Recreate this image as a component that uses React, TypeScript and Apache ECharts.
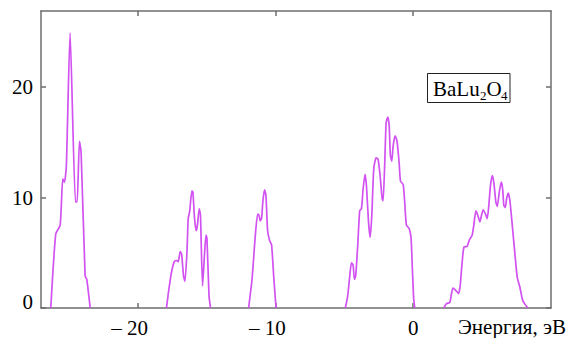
import React, { useEffect, useRef } from "react";
import * as echarts from "echarts";

// Energy (eV) and DOS values for each band
const band1E = [-26.29, -25.93, -25.61, -25.42, -25.3, -25.16, -24.89, -24.5, -24.38, -24.21, -24.09, -23.8, -23.68, -23.43];
const band1V = [0, 6.7, 7.5, 11.7, 11.4, 12.9, 24.9, 9.6, 9.6, 15.1, 14.1, 2.9, 2.6, 0];

const band2E = [-17.9, -17.58, -17.33, -17.14, -17.04, -16.9, -16.8, -16.66, -16.56, -16.41, -16.32, -16.22, -16.05, -15.98, -15.86, -15.74, -15.65, -15.52, -15.43, -15.28, -15.14, -15.03, -14.96, -14.81, -14.7];
const band2V = [0, 2.9, 4.2, 4.3, 4.2, 5.1, 4.9, 2.9, 2.4, 5.1, 8.1, 8.7, 10.6, 10.5, 8.1, 7.0, 7.5, 9.0, 8.4, 2.0, 4.8, 6.6, 6.3, 1.1, 0];

const band3E = [-11.94, -11.69, -11.45, -11.28, -11.18, -11.1, -11.0, -10.9, -10.78, -10.68, -10.56, -10.41, -10.27, -10.12, -9.95];
const band3V = [0, 2.6, 6.6, 8.5, 8.4, 7.9, 8.1, 9.7, 10.7, 10.2, 7.0, 6.1, 5.7, 2.9, 0];

const band4E = [-4.92, -4.75, -4.6, -4.48, -4.36, -4.26, -4.17, -4.02, -3.88, -3.75, -3.63, -3.49, -3.39, -3.24, -3.12, -3.0, -2.86, -2.69, -2.55, -2.4, -2.25, -2.18, -2.06, -1.96, -1.84, -1.74, -1.65, -1.55, -1.45, -1.31, -1.17, -1.02, -0.92, -0.73, -0.63, -0.49, -0.29, -0.15, -0.05, 0.04, 0.12];
const band4V = [0, 1.1, 2.9, 4.1, 3.9, 2.6, 2.9, 5.7, 8.8, 9.0, 10.8, 12.1, 11.1, 7.8, 6.4, 8.4, 12.6, 13.6, 13.5, 12.0, 9.9, 9.7, 13.2, 16.8, 17.3, 16.5, 13.8, 13.3, 14.7, 15.6, 15.1, 13.2, 11.5, 11.2, 9.9, 7.5, 7.2, 6.3, 3.3, 0.8, 0];

const band5E = [2.22, 2.42, 2.66, 2.88, 3.09, 3.29, 3.41, 3.53, 3.68, 3.92, 4.09, 4.28, 4.4, 4.55, 4.69, 4.84, 4.96, 5.08, 5.25, 5.37, 5.49, 5.61, 5.74, 5.85, 6.0, 6.1, 6.25, 6.39, 6.49, 6.58, 6.68, 6.78, 6.9, 7.02, 7.19, 7.36, 7.55, 7.74, 7.92, 8.08, 8.32];
const band5V = [0, 0.4, 0.5, 1.8, 1.6, 1.3, 2.0, 3.8, 5.5, 5.6, 6.2, 6.6, 7.5, 8.8, 8.4, 7.8, 8.4, 8.9, 8.5, 8.1, 9.3, 11.1, 12.0, 11.4, 9.6, 9.2, 10.5, 11.4, 10.8, 9.3, 9.1, 9.9, 10.4, 9.7, 7.5, 5.2, 2.8, 1.9, 0.8, 0.4, 0];

const xTicks = [-20, -10, 0];
const yTicks = [0, 10, 20];
const xAxisTitle = "Энергия, эВ";

const FONT = "Times New Roman, Liberation Serif, DejaVu Serif, serif";
const LINE = "#d251f1";
const AXIS = "#6e6e6e";

function buildData(): (number | null)[][] {
  const bands: [number[], number[]][] = [
    [band1E, band1V],
    [band2E, band2V],
    [band3E, band3V],
    [band4E, band4V],
    [band5E, band5V],
  ];
  const out: (number | null)[][] = [];
  bands.forEach(([e, v], i) => {
    if (i > 0) out.push([(e[0] + bands[i - 1][0][bands[i - 1][0].length - 1]) / 2, null]);
    e.forEach((x, k) => out.push([x, v[k]]));
  });
  return out;
}

function label(text: string, x: number, y: number, size: number) {
  return {
    type: "text",
    x,
    y,
    z: 11,
    style: {
      text,
      fontFamily: FONT,
      fontSize: size,
      fill: "#000",
      align: "left",
      verticalAlign: "middle",
    },
  };
}

export default function App() {
  const ref = useRef<HTMLDivElement>(null);
  useEffect(() => {
    if (!ref.current) return;
    const chart = echarts.init(ref.current, undefined, { renderer: "svg" });
    const axisLine = { show: true, lineStyle: { color: AXIS, width: 1.5 } };
    const tick = { show: true, inside: true, length: 5, lineStyle: { color: AXIS, width: 1.5 } };
    chart.setOption({
      animation: false,
      backgroundColor: "#ffffff",
      textStyle: { fontFamily: FONT },
      grid: { left: 41, right: 21, top: 11, bottom: 29, containLabel: false },
      xAxis: [
        {
          type: "value",
          position: "bottom",
          min: -27,
          max: 10,
          axisLine: { ...axisLine, onZero: false },
          axisTick: { ...tick, customValues: xTicks },
          splitLine: { show: false },
          axisLabel: {
            customValues: xTicks,
            margin: 9,
            color: "#000",
            fontFamily: FONT,
            fontSize: 21,
            formatter: (v: number) =>
              v < 0 ? `{m|– }{d|${-v}}{h|– }` : `{d|${v}}`,
            rich: {
              m: { fontFamily: FONT, fontSize: 21, color: "#000" },
              d: { fontFamily: FONT, fontSize: 21, color: "#000" },
              h: { fontFamily: FONT, fontSize: 21, color: "rgba(0,0,0,0)" },
            },
          },
        },
        {
          type: "value",
          position: "top",
          min: -27,
          max: 10,
          axisLine: { ...axisLine, onZero: false },
          axisTick: { ...tick, customValues: xTicks },
          axisLabel: { show: false },
          splitLine: { show: false },
        },
      ],
      yAxis: [
        {
          type: "value",
          position: "left",
          min: 0,
          max: 26.9,
          axisLine: { ...axisLine, onZero: false },
          axisTick: { ...tick, customValues: yTicks },
          splitLine: { show: false },
          axisLabel: {
            customValues: yTicks,
            margin: 8,
            color: "#000",
            fontFamily: FONT,
            fontSize: 21,
            formatter: (v: number) => (v === 0 ? `{z|0}` : `{n|${v}}`),
            rich: {
              n: { fontFamily: FONT, fontSize: 21, color: "#000" },
              z: { fontFamily: FONT, fontSize: 21, color: "#000", padding: [0, 0, 12, 0] },
            },
          },
        },
        {
          type: "value",
          position: "right",
          min: 0,
          max: 26.9,
          axisLine: { ...axisLine, onZero: false },
          axisTick: { ...tick, customValues: yTicks },
          axisLabel: { show: false },
          splitLine: { show: false },
        },
      ],
      series: [
        {
          type: "line",
          data: buildData(),
          xAxisIndex: 0,
          yAxisIndex: 0,
          showSymbol: false,
          connectNulls: false,
          smooth: 0.2,
          lineStyle: { color: LINE, width: 1.7 },
          z: 1,
        },
      ],
      graphic: [
        {
          type: "rect",
          x: 427.5,
          y: 73.5,
          shape: { width: 82.5, height: 29 },
          style: { fill: "#fff", stroke: "#222", lineWidth: 1 },
          z: 10,
        },
        label("BaLu", 433, 88.7, 21),
        label("2", 480, 95.4, 13),
        label("O", 486.5, 88.7, 21),
        label("4", 501, 95.4, 13),
        {
          type: "text",
          left: 458,
          top: 316,
          z: 11,
          style: { text: xAxisTitle, fontFamily: FONT, fontSize: 21, fill: "#000" },
        },
      ],
    });
    return () => chart.dispose();
  }, []);
  return (
    <div
      ref={ref}
      style={{ position: "fixed", left: 0, top: 0, width: 572, height: 338 }}
    />
  );
}
